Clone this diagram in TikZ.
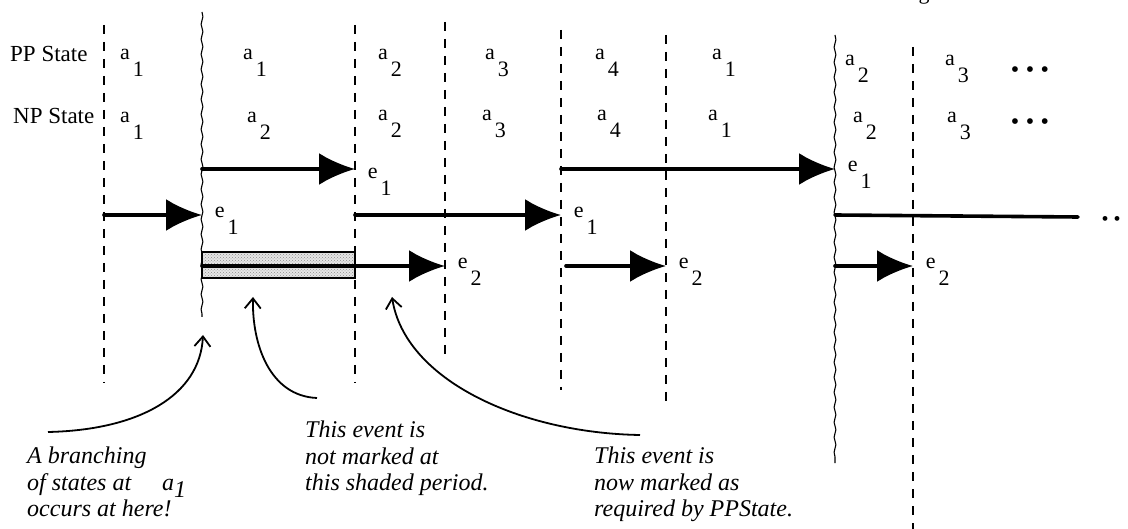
\documentclass[tikz,border=0pt]{standalone}
\usepackage{fontspec}
\setmainfont{Liberation Serif}
\usetikzlibrary{arrows.meta,decorations.pathmorphing,patterns}
\tikzset{
period/.style = {line width=2.4pt, dash pattern=on 9pt off 8pt},
branch/.style = {line width=1.1pt, decorate,
                 decoration={snake, segment length=15pt, amplitude=0.9pt}},
event/.style = {line width=3.6pt, line cap=round,
                -{Latex[length=36pt,width=32pt]}},
trace/.style = {line width=3.6pt, line cap=round},
evlabel/.style = {anchor=base west, xshift=11pt, yshift=#1, inner sep=0pt,
                  font=\fontsize{22}{24}\selectfont},
evlabel/.default = -3pt,
stlabel/.style = {anchor=base west, inner sep=0pt,
                  font=\fontsize{22}{24}\selectfont},
rowlabel/.style = {anchor=base west, inner sep=0pt,
                   font=\fontsize{23}{25}\selectfont},
note/.style = {anchor=north west, align=left, inner sep=0pt,
               font=\fontsize{24}{26.5}\selectfont\itshape},
pointer/.style = {line width=1.8pt, -{Straight Barb[length=10pt,width=16pt]}}
}
\newcommand{\sst}[2]{#1\kern3pt\raisebox{-17pt}{#2}}

\begin{document}
\begin{tikzpicture}[x=1pt, y=-1pt]
  \fill[white] (0,0) rectangle (1128,529);
  \useasboundingbox (0,0) rectangle (1128,529);

  % Period boundaries
    \coordinate (l1t) at (104,25);  \coordinate (l1b) at (104,383);
    \coordinate (l2t) at (202,12);  \coordinate (l2b) at (202,317);
    \coordinate (l3t) at (355,25);  \coordinate (l3b) at (355,383);
    \coordinate (l4t) at (445,22);  \coordinate (l4b) at (445,355);
    \coordinate (l5t) at (561,30);  \coordinate (l5b) at (561,390);
    \coordinate (l6t) at (666,35);  \coordinate (l6b) at (666,405);
    \coordinate (l7t) at (835,35);  \coordinate (l7b) at (835,463);
    \coordinate (l8t) at (913,47);  \coordinate (l8b) at (913,529);
    \draw[period] (l1t) -- (l1b);
    \draw[branch] (l2t) -- (l2b);
    \draw[period] (l3t) -- (l3b);
    \draw[period] (l4t) -- (l4b);
    \draw[period] (l5t) -- (l5b);
    \draw[period] (l6t) -- (l6b);
    \draw[branch] (l7t) -- (l7b);
    \draw[period] (l8t) -- (l8b);
    \node[anchor=base, font=\fontsize{22}{24}\selectfont] (cutTitle) at (924,0) {g};

  % States
    \node[rowlabel] (ppLabel) at (10,62) {PP State};
    \node[rowlabel] (npLabel) at (13,124) {NP State};

    \node[stlabel] (pp1) at (120,60) {\sst{a}{1}};
    \node[stlabel] (pp2) at (243,60) {\sst{a}{1}};
    \node[stlabel] (pp3) at (378,60) {\sst{a}{2}};
    \node[stlabel] (pp4) at (485,60) {\sst{a}{3}};
    \node[stlabel] (pp5) at (595,60) {\sst{a}{4}};
    \node[stlabel] (pp6) at (712,60) {\sst{a}{1}};
    \node[stlabel] (pp7) at (845,66) {\sst{a}{2}};
    \node[stlabel] (pp8) at (945,66) {\sst{a}{3}};
    \node[anchor=base, font=\fontsize{24}{26}\selectfont] (ppMore) at (1030,78) {•\hspace{6.5pt}•\hspace{6.5pt}•};

    \node[stlabel] (np1) at (120,123) {\sst{a}{1}};
    \node[stlabel] (np2) at (247,123) {\sst{a}{2}};
    \node[stlabel] (np3) at (378,121) {\sst{a}{2}};
    \node[stlabel] (np4) at (482,121) {\sst{a}{3}};
    \node[stlabel] (np5) at (597,121) {\sst{a}{4}};
    \node[stlabel] (np6) at (708,121) {\sst{a}{1}};
    \node[stlabel] (np7) at (853,123) {\sst{a}{2}};
    \node[stlabel] (np8) at (947,123) {\sst{a}{3}};
    \node[anchor=base, font=\fontsize{24}{26}\selectfont] (npMore) at (1030,130) {•\hspace{6.5pt}•\hspace{6.5pt}•};

  % Events
    \coordinate (rowA) at (0,169);
    \coordinate (rowB) at (0,215);
    \coordinate (rowC) at (0,266);

    \draw[event] (l2t |- rowA) -- (l3t |- rowA) node[evlabel=-10pt] (eA1) {\sst{e}{1}};
    \draw[event] (l5t |- rowA) -- (l7t |- rowA) node[evlabel] (eA2) {\sst{e}{1}};

    \draw[event] (l1t |- rowB) -- (l2t |- rowB) node[evlabel] (eB1) {\sst{e}{1}};
    \draw[event] (l3t |- rowB) -- (l5t |- rowB) node[evlabel] (eB2) {\sst{e}{1}};
    \coordinate (rowBEnd) at (1078,217);
    \draw[trace] (l7t |- rowB) -- (rowBEnd);
    \node[anchor=base, font=\fontsize{20}{22}\selectfont] (rowBMore) at (1111,226) {•\hspace{5pt}•};

    % shaded period
    \draw[line width=2.2pt, preaction={fill=black!10}, pattern=crosshatch dots,
          pattern color=black!45] (l2t |- 0,252) rectangle (l3t |- 0,278);
    \draw[event] (l2t |- rowC) -- (l4t |- rowC) node[evlabel] (eC1) {\sst{e}{2}};
    \draw[event] ([xshift=5pt]l5t |- rowC) -- (l6t |- rowC) node[evlabel] (eC2) {\sst{e}{2}};
    \draw[event] (l7t |- rowC) -- (l8t |- rowC) node[evlabel] (eC3) {\sst{e}{2}};

  % Notes
    \node[note] (branchNote) at (27,447) {A branching\\
      of states at\hspace{31pt}a\raisebox{-7pt}{1}\\ occurs at here!};
    \node[note] (shadeNote) at (305,421) {This event is\\ not marked at\\
      this shaded period.};
    \node[note] (markNote) at (594,447) {This event is\\ now marked as\\
      required by PPState.};

    \coordinate (branchTip) at (203,335);
    \coordinate (shadeTip) at (253,297);
    \coordinate (markTip) at (392,297);
    \coordinate (branchFrom) at (48,432);
    \coordinate (shadeFrom) at (317,398);
    \coordinate (markFrom) at (640,435);
    \draw[pointer] (branchFrom) .. controls (140,430) and (200,395) .. (branchTip);
    \draw[pointer] (shadeFrom) .. controls (270,396) and (252,345) .. (shadeTip);
    \draw[pointer] (markFrom) .. controls (520,433) and (405,380) .. (markTip);
\end{tikzpicture}
\end{document}
